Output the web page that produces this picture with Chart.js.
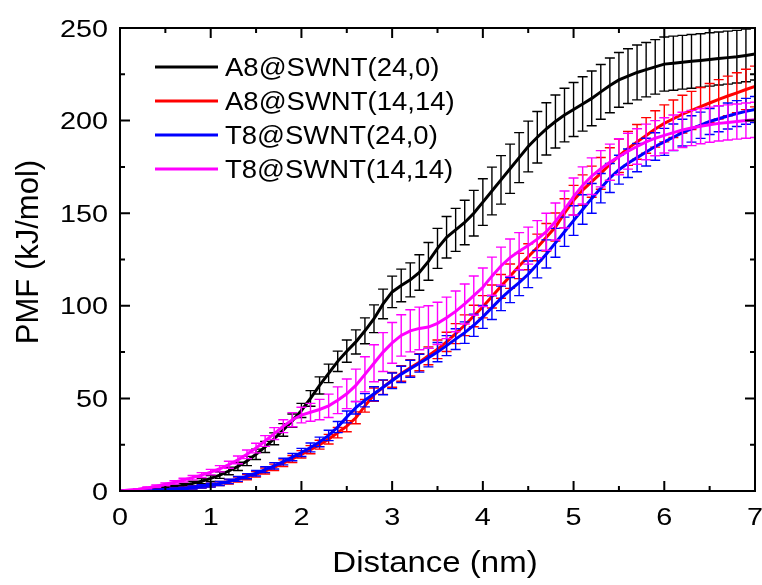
<!DOCTYPE html>
<html>
<head>
<meta charset="utf-8">
<title>PMF vs Distance</title>
<script src="https://cdn.jsdelivr.net/npm/chart.js@4.4.1/dist/chart.umd.min.js"></script>
<style>
    html, body { margin: 0; padding: 0; background: #ffffff; }
    #pmfChart { display: block; }
</style>
</head>
<body>
<canvas id="pmfChart" width="762" height="585"></canvas>
<script>
// Distance (nm), one point every 0.1 nm
const distance = [
    0.0, 0.1, 0.2, 0.3, 0.4, 0.5, 0.6, 0.7, 0.8, 0.9,
    1.0, 1.1, 1.2, 1.3, 1.4, 1.5, 1.6, 1.7, 1.8, 1.9,
    2.0, 2.1, 2.2, 2.3, 2.4, 2.5, 2.6, 2.7, 2.8, 2.9,
    3.0, 3.1, 3.2, 3.3, 3.4, 3.5, 3.6, 3.7, 3.8, 3.9,
    4.0, 4.1, 4.2, 4.3, 4.4, 4.5, 4.6, 4.7, 4.8, 4.9,
    5.0, 5.1, 5.2, 5.3, 5.4, 5.5, 5.6, 5.7, 5.8, 5.9,
    6.0, 6.1, 6.2, 6.3, 6.4, 6.5, 6.6, 6.7, 6.8, 6.9,
    7.0
];

// PMF (kJ/mol)
const pmfA8_24_0 = [
    0, 0.2, 0.5, 0.8, 1.2, 1.7, 2.3, 3.1, 4.1, 5.3,
    6.8, 8.6, 10.8, 13.3, 16.2, 19.8, 23.8, 28.2, 33, 38,
    43.5, 50, 57, 63.5, 70, 75.5, 80.5, 86.5, 93, 101,
    107.5, 111, 114, 118, 124, 131, 137, 141, 145, 150,
    156, 162, 168, 174, 180, 186, 191, 195.5, 199.5, 203,
    206, 209, 212, 215.5, 219, 222, 224, 226, 227.5, 229,
    230.5, 231, 231.5, 232, 232.5, 233, 233.5, 234, 234.5, 235.2,
    236
];
const errA8_24_0 = [
    0, 0.2, 0.3, 0.4, 0.5, 0.6, 0.8, 1.0, 1.2, 1.4,
    1.6, 1.8, 2.0, 2.2, 2.5, 2.8, 3.0, 3.2, 3.4, 3.6,
    3.8, 4.2, 4.6, 5.0, 5.5, 6.0, 6.5, 7.0, 7.5, 8.0,
    8.5, 8.8, 9.2, 9.6, 10.2, 10.8, 11.2, 11.6, 12.0, 12.3,
    12.6, 12.9, 13.1, 13.3, 13.5, 13.7, 13.9, 14.1, 14.3, 14.5,
    14.6, 14.7, 14.8, 14.8, 14.8, 14.8, 14.8, 14.8, 14.7, 14.7,
    14.6, 14.6, 14.5, 14.5, 14.4, 14.4, 14.3, 14.3, 14.2, 14.2,
    14.1
];

const pmfA8_14_14 = [
    0, 0.1, 0.2, 0.3, 0.5, 0.7, 1, 1.4, 1.9, 2.5,
    3.2, 4, 5, 6.2, 7.5, 9, 10.8, 12.8, 15, 17.3,
    19.8, 22.3, 25, 28, 31.5, 35, 39.5, 46, 52, 56,
    60, 63.5, 66.5, 69.5, 73, 76.5, 80.5, 85, 89.5, 94.5,
    99.5, 105, 110.5, 116, 121.5, 126.5, 131.5, 137, 142.5, 150,
    157, 162.5, 167, 171.5, 176.5, 181, 185, 188.5, 192, 195.5,
    198.5, 201, 203.5, 205.5, 207.5, 209.5, 211.5, 213.3, 215, 216.8,
    218.4
];
const errA8_14_14 = [
    0, 0.1, 0.2, 0.3, 0.4, 0.5, 0.6, 0.7, 0.8, 0.9,
    1.0, 1.1, 1.2, 1.3, 1.4, 1.5, 1.6, 1.7, 1.8, 1.9,
    2.0, 2.2, 2.4, 2.6, 2.8, 3.0, 3.2, 3.4, 3.6, 3.8,
    4.0, 4.2, 4.4, 4.6, 4.8, 5.0, 5.2, 5.4, 5.6, 5.8,
    6.0, 6.2, 6.4, 6.6, 6.8, 7.0, 7.2, 7.4, 7.6, 7.8,
    8.0, 8.2, 8.4, 8.6, 8.8, 9.0, 9.2, 9.4, 9.6, 9.8,
    10.0, 10.1, 10.2, 10.3, 10.4, 10.5, 10.6, 10.7, 10.8, 10.9,
    11.0
];

const pmfT8_24_0 = [
    0, 0.1, 0.2, 0.3, 0.5, 0.7, 1, 1.4, 1.9, 2.5,
    3.2, 4.1, 5.2, 6.5, 8, 9.6, 11.5, 13.6, 15.9, 18.3,
    20.8, 23.5, 26.5, 30, 34.5, 40, 45, 49, 52.5, 56,
    59.5, 63, 66, 69, 72, 75, 78.5, 82, 85.5, 89.5,
    94, 99, 104, 108.5, 112.5, 117, 122.5, 128, 134, 140,
    146, 152, 158, 163.5, 169, 173.5, 177, 180, 183, 186,
    188.5, 191, 193.5, 195.5, 197.5, 199.5, 201, 202.5, 203.8, 205,
    206
];
const errT8_24_0 = [
    0, 0.1, 0.2, 0.3, 0.4, 0.5, 0.6, 0.7, 0.8, 0.9,
    1.0, 1.1, 1.2, 1.3, 1.4, 1.5, 1.6, 1.7, 1.8, 2.0,
    2.2, 2.4, 2.6, 2.8, 3.0, 3.2, 3.4, 3.6, 3.8, 4.0,
    4.2, 4.4, 4.6, 4.8, 5.0, 5.2, 5.4, 5.6, 5.8, 6.0,
    6.2, 6.4, 6.6, 6.8, 7.0, 7.2, 7.4, 7.6, 7.8, 7.9,
    8.0, 8.0, 8.0, 7.9, 7.8, 7.8, 7.7, 7.6, 7.5, 7.4,
    7.3, 7.2, 7.2, 7.1, 7.1, 7.0, 7.0, 7.0, 7.0, 7.0,
    7.0
];

const pmfT8_14_14 = [
    0, 0.5, 1, 1.7, 2.6, 3.6, 4.7, 5.9, 7.2, 8.6,
    10.2, 12, 14.2, 16.8, 19.8, 23.2, 27, 31, 35, 38.5,
    41, 42.5, 44, 46, 49, 52.5, 57, 63, 69, 75,
    80, 84, 86.5, 87.8, 88.5, 90.5, 93.5, 97, 101, 105.5,
    110, 116, 121.5, 126, 129.5, 132.5, 136, 140, 145.5, 152,
    159, 165, 170, 174, 177.5, 180.5, 183.5, 186, 188.5, 190.5,
    192, 193.5, 195, 196, 197, 197.8, 198.5, 199, 199.5, 200,
    200.4
];
const errT8_14_14 = [
    0, 0.2, 0.3, 0.5, 0.6, 0.8, 0.9, 1.0, 1.2, 1.3,
    1.5, 1.7, 1.9, 2.1, 2.3, 2.6, 2.9, 3.2, 3.5, 3.8,
    4.2, 4.8, 5.5, 6.3, 7.2, 8.0, 8.8, 9.5, 10.0, 10.5,
    11.0, 11.2, 11.4, 11.5, 11.5, 11.4, 11.2, 11.0, 10.8, 10.6,
    10.4, 10.3, 10.2, 10.1, 10.0, 10.0, 10.0, 10.0, 10.0, 10.0,
    10.0, 10.0, 9.9, 9.8, 9.8, 9.7, 9.7, 9.6, 9.6, 9.5,
    9.5, 9.5, 9.5, 9.5, 9.5, 9.5, 9.5, 9.5, 9.5, 9.5,
    9.5
];

const seriesNames = ['A8@SWNT(24,0)', 'A8@SWNT(14,14)', 'T8@SWNT(24,0)', 'T8@SWNT(14,14)'];
const seriesColors = ['#000000', '#ff0000', '#0000ff', '#ff00ff'];

// Assi
const xMajorTicks = [0, 1, 2, 3, 4, 5, 6, 7];
const xMinorTicks = [0.5, 1.5, 2.5, 3.5, 4.5, 5.5, 6.5];
const xTickLabels = ['0', '1', '2', '3', '4', '5', '6', '7'];
const yMajorTicks = [0, 50, 100, 150, 200, 250];
const yMinorTicks = [25, 75, 125, 175, 225];
const yTickLabels = ['0', '50', '100', '150', '200', '250'];
const xTitle = 'Distance (nm)';
const yTitle = 'PMF (kJ/mol)';

const FONT = '"Liberation Sans", Arial, sans-serif';

function toPoints(ys) {
    return distance.map(function(d, i) { return { x: d, y: ys[i] }; });
}

// Testo allargato orizzontalmente come nel grafico originale
function stretchedText(ctx, text, x, y, size, sx, align) {
    ctx.save();
    ctx.font = size + 'px ' + FONT;
    ctx.textBaseline = 'alphabetic';
    const w = ctx.measureText(text).width * sx;
    let left = x;
    if (align === 'center') left = x - w / 2;
    if (align === 'right') left = x - w;
    ctx.translate(left, y);
    ctx.scale(sx, 1);
    ctx.textAlign = 'left';
    ctx.fillText(text, 0, 0);
    ctx.restore();
}

// Barre d'errore disegnate prima della linea di ogni serie
const errorBarsPlugin = {
    id: 'errorBars',
    beforeDatasetDraw(chart, args) {
        const ds = chart.data.datasets[args.index];
        const yScale = chart.scales.y;
        const area = chart.chartArea;
        const ctx = chart.ctx;
        ctx.save();
        ctx.beginPath();
        ctx.rect(area.left, area.top, area.right - area.left, area.bottom - area.top);
        ctx.clip();
        ctx.strokeStyle = ds.borderColor;
        ctx.lineWidth = 1.4;
        ctx.beginPath();
        args.meta.data.forEach(function(pt, i) {
            const v = ds.data[i].y;
            const e = ds.errors[i];
            if (!e) return;
            const top = yScale.getPixelForValue(v + e);
            const bot = yScale.getPixelForValue(v - e);
            ctx.moveTo(pt.x, top);
            ctx.lineTo(pt.x, bot);
            ctx.moveTo(pt.x - 5, top);
            ctx.lineTo(pt.x + 5, top);
            ctx.moveTo(pt.x - 5, bot);
            ctx.lineTo(pt.x + 5, bot);
        });
        ctx.stroke();
        ctx.restore();
    }
};

// Cornice, tacche interne, etichette, titoli e legenda
const framePlugin = {
    id: 'frame',
    afterDraw(chart) {
        const ctx = chart.ctx;
        const a = chart.chartArea;
        const xs = chart.scales.x;
        const ys = chart.scales.y;
        ctx.save();
        ctx.strokeStyle = '#000';
        ctx.fillStyle = '#000';
        ctx.lineWidth = 2;
        ctx.strokeRect(a.left, a.top, a.right - a.left, a.bottom - a.top);

        ctx.beginPath();
        xMajorTicks.forEach(function(v) {
            const px = xs.getPixelForValue(v);
            ctx.moveTo(px, a.bottom); ctx.lineTo(px, a.bottom - 10);
            ctx.moveTo(px, a.top); ctx.lineTo(px, a.top + 10);
        });
        xMinorTicks.forEach(function(v) {
            const px = xs.getPixelForValue(v);
            ctx.moveTo(px, a.bottom); ctx.lineTo(px, a.bottom - 5);
            ctx.moveTo(px, a.top); ctx.lineTo(px, a.top + 5);
        });
        yMajorTicks.forEach(function(v) {
            const py = ys.getPixelForValue(v);
            ctx.moveTo(a.left, py); ctx.lineTo(a.left + 10, py);
            ctx.moveTo(a.right, py); ctx.lineTo(a.right - 10, py);
        });
        yMinorTicks.forEach(function(v) {
            const py = ys.getPixelForValue(v);
            ctx.moveTo(a.left, py); ctx.lineTo(a.left + 5, py);
            ctx.moveTo(a.right, py); ctx.lineTo(a.right - 5, py);
        });
        ctx.stroke();

        // etichette delle tacche
        xMajorTicks.forEach(function(v, i) {
            stretchedText(ctx, xTickLabels[i], xs.getPixelForValue(v), a.bottom + 34, 24, 1.2, 'center');
        });
        yMajorTicks.forEach(function(v, i) {
            stretchedText(ctx, yTickLabels[i], a.left - 12, ys.getPixelForValue(v) + 8.5, 24, 1.2, 'right');
        });

        // titoli degli assi
        stretchedText(ctx, xTitle, 435, 572, 30, 1.1, 'center');
        ctx.save();
        ctx.translate(38, 252);
        ctx.rotate(-Math.PI / 2);
        ctx.font = '31px ' + FONT;
        ctx.textAlign = 'center';
        ctx.textBaseline = 'alphabetic';
        ctx.fillText(yTitle, 0, 0);
        ctx.restore();

        // legenda
        const legendY = [67, 101, 135, 169];
        seriesNames.forEach(function(name, i) {
            ctx.strokeStyle = seriesColors[i];
            ctx.lineWidth = 3;
            ctx.beginPath();
            ctx.moveTo(155, legendY[i]);
            ctx.lineTo(218, legendY[i]);
            ctx.stroke();
            ctx.fillStyle = '#000';
            stretchedText(ctx, name, 225, legendY[i] + 9, 25, 1.1, 'left');
        });
        ctx.restore();
    }
};

const allPmf = [pmfA8_24_0, pmfA8_14_14, pmfT8_24_0, pmfT8_14_14];
const allErr = [errA8_24_0, errA8_14_14, errT8_24_0, errT8_14_14];

const datasets = seriesNames.map(function(name, i) {
    return {
        label: name,
        data: toPoints(allPmf[i]),
        errors: allErr[i],
        borderColor: seriesColors[i],
        backgroundColor: seriesColors[i],
        borderWidth: 3,
        pointRadius: 0,
        tension: 0,
        fill: false,
        order: 4 - i   // la serie magenta sopra le altre
    };
});

new Chart(document.getElementById('pmfChart').getContext('2d'), {
    type: 'line',
    data: { datasets: datasets },
    options: {
        responsive: false,
        animation: false,
        events: [],
        layout: { padding: { left: 120, right: 7, top: 28, bottom: 94 } },
        scales: {
            x: { type: 'linear', min: 0, max: 7, display: false },
            y: { type: 'linear', min: 0, max: 250, display: false }
        },
        plugins: {
            legend: { display: false },
            tooltip: { enabled: false }
        }
    },
    plugins: [errorBarsPlugin, framePlugin]
});
</script>
</body>
</html>
